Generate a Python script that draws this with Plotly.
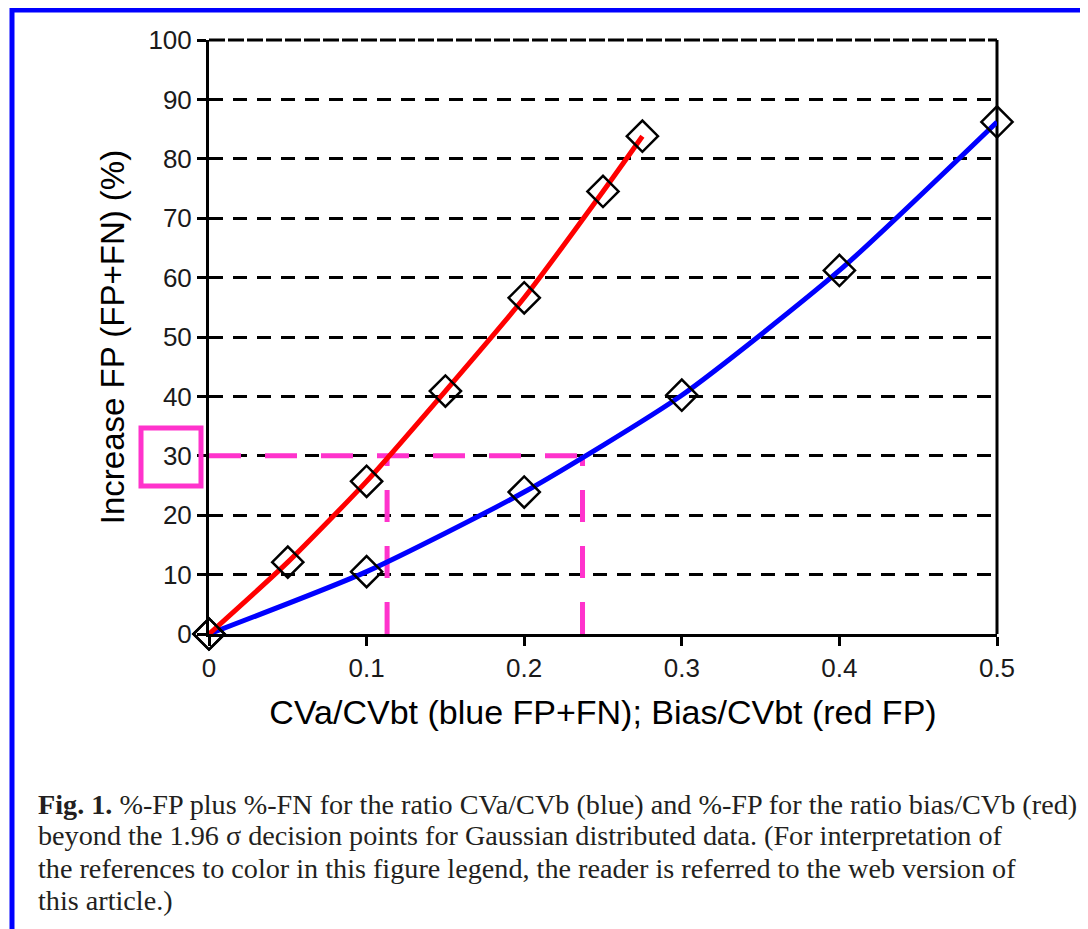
import plotly.graph_objects as go

# ---- data ----
red_x = [0, 0.05, 0.10, 0.15, 0.20, 0.25, 0.275]
red_y = [0, 12.1, 25.7, 40.9, 56.6, 74.5, 83.8]
blue_x = [0, 0.1, 0.2, 0.3, 0.4, 0.5]
blue_y = [0, 10.5, 23.9, 40.2, 61.2, 86.2]

x_ticks = [0, 0.1, 0.2, 0.3, 0.4, 0.5]
x_tick_labels = ["0", "0.1", "0.2", "0.3", "0.4", "0.5"]
y_ticks = [0, 10, 20, 30, 40, 50, 60, 70, 80, 90, 100]

threshold_y = 30
red_x_at_threshold = 0.113
blue_x_at_threshold = 0.237

caption_lines = [
    "<b>Fig. 1.</b> %-FP plus %-FN for the ratio CVa/CVb (blue) and %-FP for the ratio bias/CVb (red)",
    "beyond the 1.96 σ decision points for Gaussian distributed data. (For interpretation of",
    "the references to color in this figure legend, the reader is referred to the web version of",
    "this article.)",
]

MAGENTA = "#FF33CC"
OFF = 8  # page body margin offset
W, H = 1080, 921
L, R, T = 209 - OFF, 91, 40 - OFF
PLOT_BOTTOM = 634 - OFF
B = H - PLOT_BOTTOM
PW, PH = W - L - R, H - T - B


def px_x(p):
    return (p - OFF - L) / PW


def px_y(p):
    return (PLOT_BOTTOM - (p - OFF)) / PH


fig = go.Figure()

dash = "32px,24px"
fig.add_trace(go.Scatter(
    x=[0, blue_x_at_threshold], y=[threshold_y, threshold_y], mode="lines",
    line=dict(color=MAGENTA, width=5, dash=dash), hoverinfo="skip", showlegend=False))
fig.add_trace(go.Scatter(
    x=[red_x_at_threshold, red_x_at_threshold], y=[0, threshold_y], mode="lines",
    line=dict(color=MAGENTA, width=5, dash=dash), hoverinfo="skip", showlegend=False))
fig.add_trace(go.Scatter(
    x=[blue_x_at_threshold, blue_x_at_threshold], y=[0, threshold_y], mode="lines",
    line=dict(color=MAGENTA, width=5, dash=dash), hoverinfo="skip", showlegend=False))

marker = dict(symbol="diamond-open", size=24, color="black", line=dict(color="black", width=2.5))
fig.add_trace(go.Scatter(
    x=blue_x, y=blue_y, mode="lines+markers", name="CVa/CVbt",
    line=dict(color="#0000FF", width=5, shape="spline", smoothing=0.6),
    marker=marker, cliponaxis=False, showlegend=False))
fig.add_trace(go.Scatter(
    x=red_x, y=red_y, mode="lines+markers", name="Bias/CVbt",
    line=dict(color="#FF0000", width=5, shape="spline", smoothing=0.6),
    marker=marker, cliponaxis=False, showlegend=False))

shapes = [
    # right border of the plot area
    dict(type="line", xref="paper", yref="paper", x0=1, x1=1, y0=0, y1=1,
         line=dict(color="black", width=3), layer="below"),
    # top line at 100
    dict(type="line", xref="paper", yref="paper", x0=0, x1=1, y0=1, y1=1,
         line=dict(color="black", width=3, dash="16px,3px"), layer="below"),
    dict(type="rect", xref="paper", yref="paper",
         x0=px_x(141), x1=px_x(201), y0=px_y(486), y1=px_y(428),
         line=dict(color=MAGENTA, width=5)),
    dict(type="line", xref="paper", yref="paper",
         x0=px_x(10), x1=px_x(1100), y0=px_y(10), y1=px_y(10),
         line=dict(color="#0000FF", width=5)),
    dict(type="line", xref="paper", yref="paper",
         x0=px_x(12), x1=px_x(12), y0=px_y(8), y1=px_y(960),
         line=dict(color="#0000FF", width=5)),
]

annotations = []
for i, line in enumerate(caption_lines):
    annotations.append(dict(
        xref="paper", yref="paper", x=px_x(36), y=px_y(804 + i * 32),
        xanchor="left", yanchor="middle", text=line, showarrow=False,
        font=dict(family="Liberation Serif", size=28.2, color="#231f20")))

fig.update_layout(
    width=W, height=H,
    margin=dict(l=L, r=R, t=T, b=B),
    paper_bgcolor="white", plot_bgcolor="white",
    font=dict(family="Liberation Sans, Arial", color="black"),
    xaxis=dict(
        range=[0, 0.5], tickvals=x_ticks, ticktext=x_tick_labels,
        showgrid=False, zeroline=False, showline=True, linecolor="black", linewidth=3,
        ticks="outside", ticklen=9, tickwidth=3, tickcolor="black",
        tickfont=dict(size=26, color="#1a1a1a"),
        title=dict(text="CVa/CVbt (blue FP+FN); Bias/CVbt (red FP)",
                   font=dict(size=34, color="black"), standoff=18),
    ),
    yaxis=dict(
        range=[0, 100], tickvals=y_ticks,
        showgrid=True, gridcolor="black", gridwidth=2.5, griddash="14px,10px",
        zeroline=False, showline=True, linecolor="black", linewidth=3,
        ticks="outside", ticklen=9, tickwidth=3, tickcolor="black",
        tickfont=dict(size=26, color="#1a1a1a"),
        title=dict(text="Increase FP (FP+FN) (%)", font=dict(size=33, color="black"), standoff=14),
    ),
    shapes=shapes,
    annotations=annotations,
    showlegend=False,
)

fig.write_html("out.html")
